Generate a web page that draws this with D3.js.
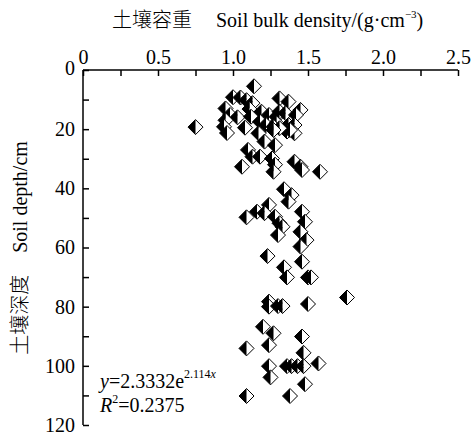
<!DOCTYPE html>
<html>
<head>
<meta charset="utf-8">
<script src="https://cdn.jsdelivr.net/npm/d3@7"></script>
<style>
  body { margin: 0; background: #fff; }
  svg { display: block; }
  text { font-family: "Liberation Serif", "Noto Sans CJK SC", serif; fill: #000; }
</style>
</head>
<body>
<div id="chart"></div>
<script>
// bulk density (g/cm3) and depth (cm)
var density = [
  1.14, 1.00, 1.05, 1.09, 1.13, 0.95, 1.11, 0.98, 1.03, 0.95, 0.94, 0.96, 0.75, 1.19, 1.12,
  1.24, 1.18, 1.22, 1.29, 1.31, 1.37, 1.45, 1.31, 1.35, 1.42, 1.29, 1.37, 1.41, 1.36, 1.41,
  1.38, 1.27, 1.31, 1.27, 1.17, 1.08, 1.21, 1.28,
  1.10, 1.13, 1.18, 1.06, 1.26, 1.28, 1.27, 1.41, 1.45, 1.46, 1.58, 1.34, 1.39, 1.37, 1.24,
  1.16, 1.21, 1.09, 1.28, 1.31, 1.33, 1.30, 1.46, 1.48, 1.45, 1.49, 1.45, 1.23, 1.46, 1.34,
  1.36, 1.50, 1.52,
  1.76, 1.24, 1.24, 1.30, 1.33, 1.50, 1.20, 1.27, 1.46, 1.24, 1.09, 1.47, 1.24, 1.36, 1.39,
  1.43, 1.47, 1.57, 1.25, 1.48, 1.09, 1.38
];
var depth = [
  5.5, 9.2, 9.3, 10.2, 11.2, 13.0, 13.2, 15.2, 16.0, 17.0, 19.2, 21.3, 19.3, 14.1, 15.8,
  15.2, 17.5, 18.6, 15.8, 9.6, 10.7, 13.5, 14.1, 14.6, 15.2, 18.0, 18.6, 18.6, 20.8, 21.4,
  20.3, 19.2, 19.7, 20.3, 21.4, 19.5, 24.2, 25.4,
  27.0, 29.3, 29.3, 32.7, 29.9, 32.0, 34.4, 31.0, 32.7, 33.8, 34.4, 40.3, 42.3, 44.5, 45.6,
  47.9, 48.4, 49.8, 49.6, 51.8, 53.0, 55.8, 47.9, 51.3, 54.7, 57.5, 59.7, 62.9, 64.8, 66.7,
  70.1, 70.1, 70.1,
  76.9, 78.3, 80.0, 79.8, 79.8, 79.1, 86.8, 89.0, 90.1, 93.0, 94.1, 95.6, 100.1, 100.1, 100.1,
  100.1, 100.1, 99.2, 103.9, 106.2, 110.2, 110.2
];
var xTicks = [0, 0.25, 0.5, 0.75, 1.0, 1.25, 1.5, 1.75, 2.0, 2.25, 2.5];
var xTickLabels = ["0", "", "0.5", "", "1.0", "", "1.5", "", "2.0", "", "2.5"];
var yTicks = [0, 10, 20, 30, 40, 50, 60, 70, 80, 90, 100, 110, 120];
var yTickLabels = ["0", "", "20", "", "40", "", "60", "", "80", "", "100", "", "120"];

var SERIF = '"Liberation Serif", serif';
var CJK = '"Noto Sans CJK SC", sans-serif';

var width = 471, height = 434;
var margin = { top: 70, left: 83, right: 13, bottom: 9 };
var w = width - margin.left - margin.right;
var h = height - margin.top - margin.bottom;

var svg = d3.select('#chart').append('svg')
  .attr('width', width)
  .attr('height', height);
var g = svg.append('g')
  .attr('transform', 'translate(' + margin.left + ',' + margin.top + ')');

var x = d3.scaleLinear().domain([0, 2.5]).range([0, w]);
var y = d3.scaleLinear().domain([0, 120]).range([0, h]);

var xAxis = g.append('g')
  .call(d3.axisTop(x).tickValues(xTicks).tickSize(-6).tickPadding(6)
    .tickFormat(function (d, i) { return xTickLabels[i]; }));
var yAxis = g.append('g')
  .call(d3.axisLeft(y).tickValues(yTicks).tickSize(-6).tickPadding(8)
    .tickFormat(function (d, i) { return yTickLabels[i]; }));

[xAxis, yAxis].forEach(function (a) {
  a.attr('font-family', SERIF).attr('font-size', 20);
  a.select('.domain').attr('stroke', '#000').attr('stroke-width', 1.5)
    .attr('d', a === xAxis ? 'M0,0H' + w : 'M0,0V' + h);
  a.selectAll('.tick line').attr('stroke', '#000').attr('stroke-width', 1.5);
  a.selectAll('.tick text').attr('fill', '#000').style('font-family', SERIF);
});
// the first label on the left sits a little above the corner
yAxis.selectAll('.tick text').filter(function (d) { return d === 0; }).attr('dy', '0.2em');

// markers: diamond, left half black, right half white
var r = 7.5;
var pts = g.append('g').selectAll('g')
  .data(density.map(function (d, i) { return { x: d, y: depth[i] }; }))
  .enter().append('g')
  .attr('transform', function (d) { return 'translate(' + x(d.x) + ',' + y(d.y) + ')'; });
pts.append('path')
  .attr('d', 'M0,' + (-r) + 'L' + r + ',0L0,' + r + 'Z')
  .attr('fill', '#fff');
pts.append('path')
  .attr('d', 'M0,' + (-r) + 'L' + (-r) + ',0L0,' + r + 'Z')
  .attr('fill', '#000');
pts.append('path')
  .attr('d', 'M0,' + (-r) + 'L' + r + ',0L0,' + r + 'L' + (-r) + ',0Z')
  .attr('fill', 'none')
  .attr('stroke', '#000')
  .attr('stroke-width', 1);

// titles
var title = svg.append('text')
  .attr('x', 112)
  .attr('y', 27)
  .attr('font-size', 20);
title.append('tspan').style('font-family', CJK).attr('font-weight', 300).text('土壤容重');
title.append('tspan').attr('dx', 24).style('font-family', SERIF).text('Soil bulk density/(g·cm');
title.append('tspan').style('font-family', SERIF).attr('font-size', 11).attr('dy', -9).text('−3');
title.append('tspan').style('font-family', SERIF).attr('dy', 9).text(')');

var ytitle = svg.append('text')
  .attr('transform', 'translate(27,' + 248 + ') rotate(-90)')
  .attr('text-anchor', 'middle')
  .attr('font-size', 20);
ytitle.append('tspan').style('font-family', CJK).attr('font-weight', 300).text('土壤深度');
ytitle.append('tspan').style('font-family', SERIF).attr('dx', 22).text('Soil depth/cm');

// fitted equation
var eq = svg.append('text').attr('x', 100).attr('y', 388).attr('font-size', 20).style('font-family', SERIF);
eq.append('tspan').attr('font-style', 'italic').text('y');
eq.append('tspan').text('=2.3332e');
eq.append('tspan').attr('font-size', 12).attr('dy', -10).text('2.114');
eq.append('tspan').attr('font-size', 12).attr('font-style', 'italic').text('x');
var r2 = svg.append('text').attr('x', 100).attr('y', 412).attr('font-size', 20).style('font-family', SERIF);
r2.append('tspan').attr('font-style', 'italic').text('R');
r2.append('tspan').attr('font-size', 12).attr('dy', -9).text('2');
r2.append('tspan').attr('dy', 9).text('=0.2375');
</script>
</body>
</html>
